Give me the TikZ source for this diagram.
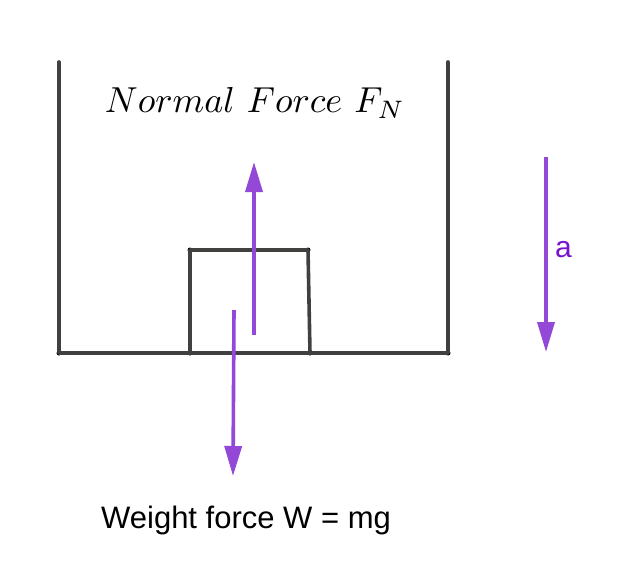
\documentclass[tikz,border=0pt]{standalone}
\usepackage{fontspec}
\setsansfont{Liberation Sans}
\usetikzlibrary{positioning, calc, arrows.meta}
\definecolor{forcepurple}{RGB}{147,72,215}
\definecolor{labelpurple}{RGB}{118,20,205}
\definecolor{wallgray}{RGB}{64,64,62}
\tikzset{
  wall/.style={draw=wallgray, line width=3.6pt, line cap=round, line join=round},
  force/.style={draw=forcepurple, line width=3.6pt, -{Triangle[length=30pt,width=17pt]}},
  corner/.style={circle, fill=black, inner sep=0pt, minimum size=5pt}
}
\begin{document}
\begin{tikzpicture}[x=1pt, y=-1pt]
			\useasboundingbox (0,0) rectangle (618,582);
			% container and block
			\node (c1) [corner] at (59,353) {};
			\node (c2) [corner] at (190,353) {};
			\node (c3) [corner] at (310,353) {};
			\node (c4) [corner] at (448,353) {};
			\node (b1) [corner] at (190,250) {};
			\node (b2) [corner] at (308,250) {};
			\coordinate (w1) at (59,62);
			\coordinate (w2) at (448,62);
			\draw [wall] (w1) -- (c1.center) -- (c4.center) -- (w2);
			\draw [wall] (c2.center) -- (b1.center) -- (b2.center) -- (c3.center);
			
			% forces
			\coordinate (n0) at (254,335);
			\coordinate (n1) at (254,162);
			\coordinate (g0) at (234,310);
			\coordinate (g1) at (233,476);
			\coordinate (a0) at (546,157);
			\coordinate (a1) at (546,352);
			\draw [force] (n0) -- (n1);
			\draw [force] (g0) -- (g1);
			\draw [force] (a0) -- (a1);
			
			% labels
			\node (fn) [inner sep=0pt] at (255,103) {\resizebox{300pt}{!}{$Normal\ Force\ F_N$}};
			\node (wt) [anchor=base west, inner sep=0pt] at (101,528) {\sffamily\fontsize{31}{36}\selectfont Weight force W = mg};
			\node (al) [anchor=base west, inner sep=0pt, text=labelpurple] at (555,257) {\sffamily\fontsize{30}{34}\selectfont a};
		\end{tikzpicture}
\end{document}
